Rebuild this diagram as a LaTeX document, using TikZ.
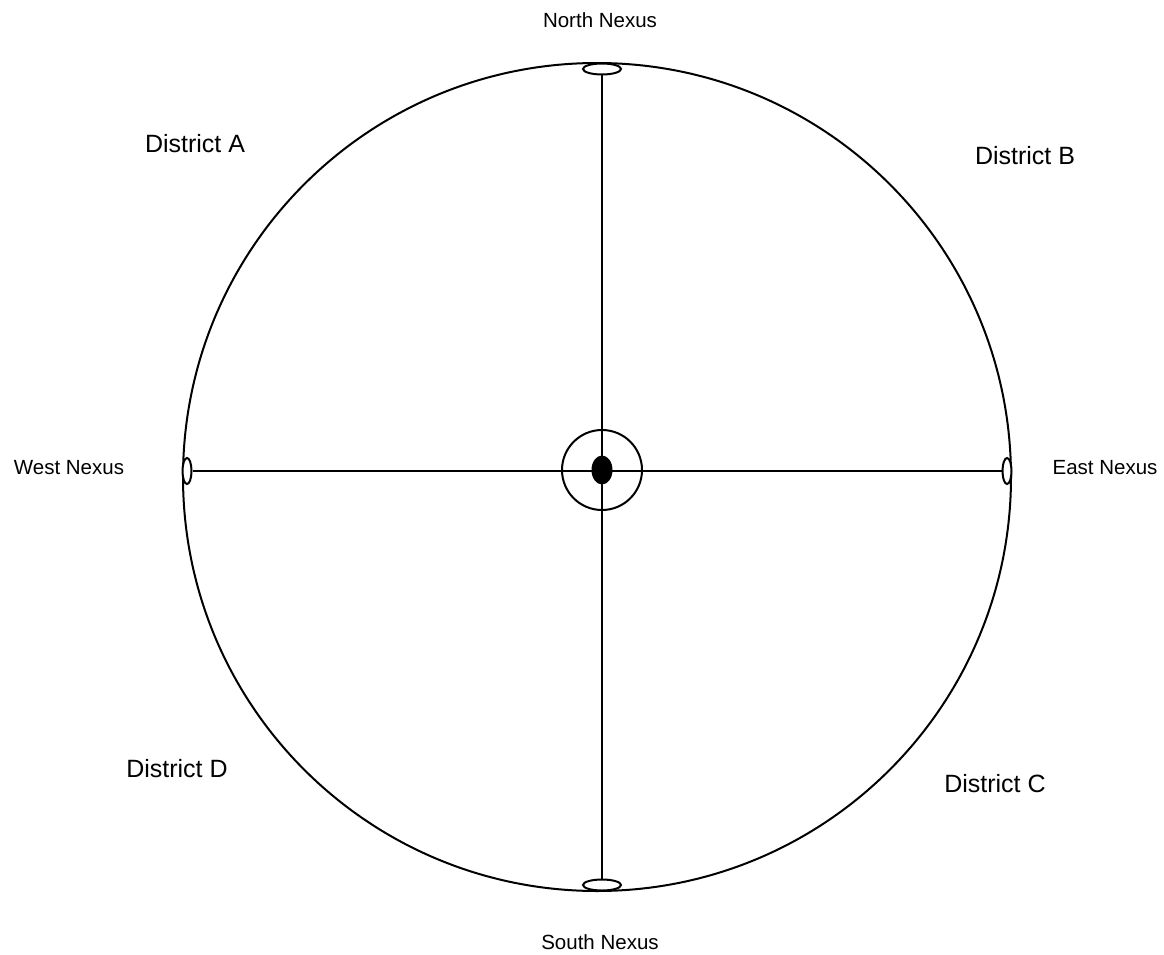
\documentclass[tikz,border=0pt]{standalone}
\usepackage{fontspec}
\setmainfont{Liberation Sans}
\usetikzlibrary{shapes.geometric}
\begin{document}
\begin{tikzpicture}[x=1pt,y=-1pt,
  wire/.style={line width=2pt,black},
  portv/.style={ellipse,draw,line width=2pt,fill=white,inner sep=0pt,minimum width=38pt,minimum height=11pt},
  porth/.style={ellipse,draw,line width=2pt,fill=white,inner sep=0pt,minimum width=9pt,minimum height=26pt},
  nexlabel/.style={font=\fontsize{20.5}{24}\selectfont,inner sep=0pt},
  distlabel/.style={font=\fontsize{25}{30}\selectfont,inner sep=0pt}]
\useasboundingbox (0,0) rectangle (1164,955);
\fill[white] (0,0) rectangle (1164,955);
% outer boundary
\draw[wire] (597,477) circle (414pt);
% nexus ports
\node[portv] (north) at (602,69) {};
\node[portv] (south) at (602,885) {};
\node[porth] (west) at (187,471) {};
\node[porth] (east) at (1007,471) {};
% center hub
\node[circle,draw,line width=2pt,inner sep=0pt,minimum size=80pt] (ring) at (602,470) {};
% connectors
\draw[wire] (north) -- (south);
\draw[wire] (west) -- (east);
\node[ellipse,fill=black,inner sep=0pt,minimum width=21pt,minimum height=29pt] (hub) at (602,470) {};
% labels
\node[nexlabel] (lnorth) at (600,20) {North Nexus};
\node[nexlabel] (lsouth) at (600,942) {South Nexus};
\node[nexlabel] (lwest) at (69,468) {West Nexus};
\node[nexlabel] (least) at (1105,468) {East Nexus};
\node[distlabel] (da) at (195,144) {District A};
\node[distlabel] (db) at (1025,156) {District B};
\node[distlabel] (dc) at (995,784) {District C};
\node[distlabel] (dd) at (177,769) {District D};
\end{tikzpicture}
\end{document}
